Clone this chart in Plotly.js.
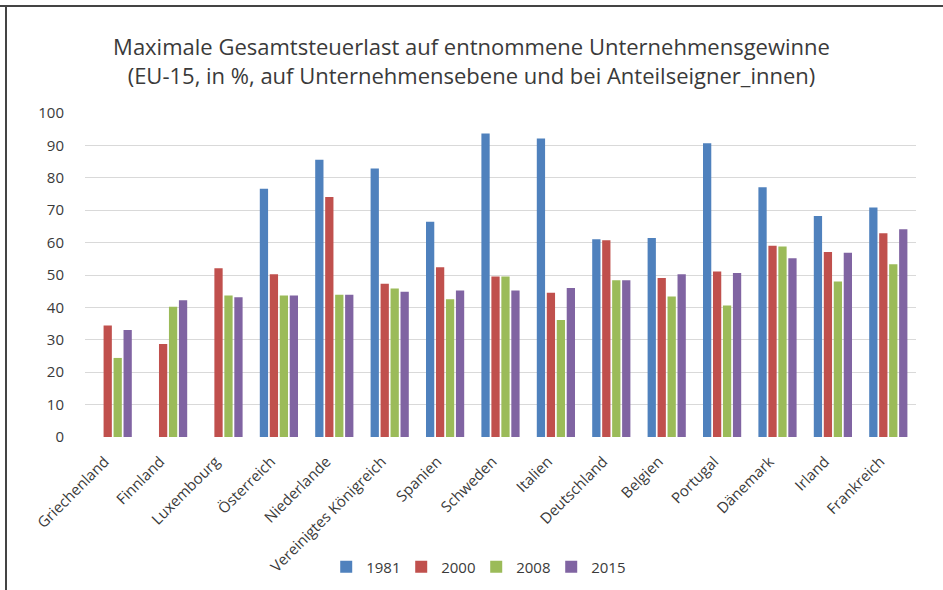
<!DOCTYPE html>
<html>
<head>
<meta charset="utf-8">
<script src="https://cdn.plot.ly/plotly-3.0.1.min.js"></script>
<style>
  html, body { margin: 0; padding: 0; background: #ffffff; }
  #chart { width: 943px; height: 590px; }
</style>
</head>
<body>
<div id="chart"></div>
<script>
// EU-15 countries, ordered by their 2015 ranking
const countries = [
  'Griechenland', 'Finnland', 'Luxembourg', 'Österreich', 'Niederlande',
  'Vereinigtes Königreich', 'Spanien', 'Schweden', 'Italien', 'Deutschland',
  'Belgien', 'Portugal', 'Dänemark', 'Irland', 'Frankreich'
];

// Maximum overall tax burden on distributed profits, in %
const y1981 = [null, null, null, 76.6, 85.6, 82.9, 66.4, 93.7, 92.1, 61.0, 61.4, 90.7, 77.1, 68.2, 70.8];
const y2000 = [34.4, 28.7, 52.1, 50.2, 74.1, 47.3, 52.4, 49.5, 44.5, 60.7, 49.1, 51.1, 59.0, 57.1, 62.9];
const y2008 = [24.4, 40.2, 43.7, 43.7, 43.9, 45.8, 42.5, 49.5, 36.1, 48.4, 43.4, 40.6, 58.8, 48.0, 53.3];
const y2015 = [33.0, 42.2, 43.1, 43.7, 43.9, 44.8, 45.2, 45.2, 46.0, 48.4, 50.2, 50.6, 55.2, 56.9, 64.1];

const seriesNames = ['1981', '2000', '2008', '2015'];
const seriesValues = [y1981, y2000, y2008, y2015];
const seriesColors = ['#4f81bd', '#c0504d', '#9bbb59', '#8064a2'];

const font = '"Open Sans", Lato, "DejaVu Sans", sans-serif';
const textColor = '#3a3a3a';

const traces = seriesNames.map((name, i) => ({
  type: 'bar',
  name: name,
  x: countries,
  y: seriesValues[i],
  marker: { color: seriesColors[i] },
  hoverinfo: 'x+y+name'
}));

const layout = {
  width: 943,
  height: 590,
  paper_bgcolor: '#ffffff',
  plot_bgcolor: '#ffffff',
  margin: { l: 85, r: 27, t: 113, b: 153, autoexpand: false },
  font: { family: font, size: 14, color: textColor },
  title: {
    text: 'Maximale Gesamtsteuerlast auf entnommene Unternehmensgewinne<br>(EU-15, in %, auf Unternehmensebene und bei Anteilseigner_innen)',
    font: { family: font, size: 22, color: textColor },
    x: 0.5,
    xanchor: 'center',
    y: 1 - 55 / 590,
    yref: 'container',
    yanchor: 'middle'
  },
  barmode: 'group',
  bargap: 0.28,
  bargroupgap: 0.17,
  xaxis: {
    type: 'category',
    tickangle: -45,
    showgrid: false,
    showline: false,
    ticks: '',
    ticklabelshift: -8,
    ticklabelstandoff: 12,
    tickfont: { family: font, size: 15, color: textColor },
    automargin: false
  },
  yaxis: {
    range: [0, 100],
    dtick: 10,
    showgrid: true,
    gridcolor: '#d9d9d9',
    gridwidth: 1,
    zeroline: false,
    showline: false,
    ticks: '',
    ticklabelstandoff: 20,
    tickfont: { family: font, size: 15, color: textColor },
    automargin: false
  },
  legend: {
    orientation: 'h',
    x: 0.505,
    xanchor: 'center',
    xref: 'container',
    y: 23 / 590,
    yanchor: 'middle',
    yref: 'container',
    font: { family: font, size: 15, color: textColor },
    itemwidth: 30,
    entrywidth: 30,
    traceorder: 'normal'
  },
  shapes: [
    // outer frame along the top and left edges
    { type: 'line', xref: 'paper', yref: 'paper', x0: -85/831, x1: 1 + 27/831, y0: 1 + 107/324, y1: 1 + 107/324,
      line: { color: '#444444', width: 2 } },
    { type: 'line', xref: 'paper', yref: 'paper', x0: -79/831, x1: -79/831, y0: 1 + 107/324, y1: -160/324,
      line: { color: '#444444', width: 2 } }
  ],
  showlegend: true
};

Plotly.newPlot('chart', traces, layout, { displayModeBar: false, staticPlot: true });
</script>
</body>
</html>
